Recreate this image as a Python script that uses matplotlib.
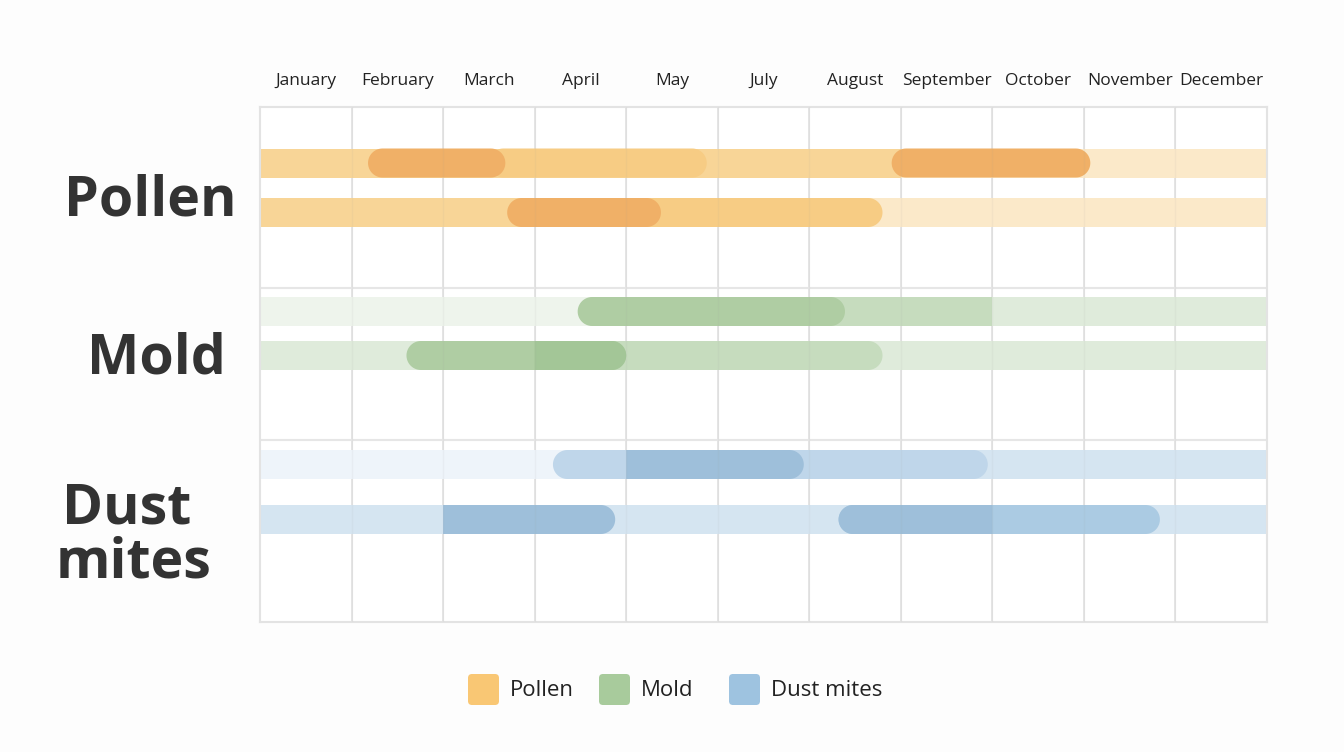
import matplotlib
matplotlib.use("Agg")
import numpy as np
import matplotlib.pyplot as plt
from matplotlib.patches import FancyBboxPatch, Polygon

plt.rcParams["font.family"] = ["Open Sans", "DejaVu Sans"]

# month columns as printed on the chart (June is not shown)
months = ["January", "February", "March", "April", "May", "July",
          "August", "September", "October", "November", "December"]

series = ["Pollen", "Mold", "Dust mites"]

# each row: (start, end, intensity, round left, round right), in month columns
pollen_a = [(0, 7.0, "light", 0, 0), (7.0, 11, "pale", 0, 0),
            (2.5, 4.88, "mid", 1, 1), (1.18, 2.68, "dark", 1, 1),
            (6.90, 9.07, "dark", 1, 1)]
pollen_b = [(0, 11, "pale", 0, 0), (0, 3.0, "light", 0, 0),
            (2.8, 6.8, "mid", 1, 1), (2.70, 4.38, "dark", 1, 1)]
mold_a = [(0, 3.6, "pale", 0, 0), (3.6, 11, "light", 0, 0),
          (5.5, 8.0, "mid", 0, 0), (3.47, 6.39, "dark", 1, 1)]
mold_b = [(0, 11, "light", 0, 0), (3.5, 6.8, "mid", 1, 1),
          (1.6, 4.0, "dark", 1, 1), (3.0, 4.0, "deep", 0, 1)]
dust_a = [(0, 3.6, "pale", 0, 0), (3.6, 11, "light", 0, 0),
          (3.2, 7.95, "mid", 1, 1), (4.0, 5.94, "deep", 0, 1)]
dust_b = [(0, 11, "light", 0, 0), (2.0, 3.88, "deep", 0, 1),
          (6.32, 9.83, "dark", 1, 1), (6.32, 8.0, "deep", 1, 0)]

palette = {
    "Pollen": {"pale": "#FBE9C9", "light": "#F8D597", "mid": "#F7CC84",
               "dark": "#F0B067", "deep": "#EFAC62", "key": "#F9C774"},
    "Mold": {"pale": "#EEF4EC", "light": "#DFEBDB", "mid": "#C6DCBE",
             "dark": "#AFCDA3", "deep": "#A3C697", "key": "#A8CB9C"},
    "Dust mites": {"pale": "#EEF4FA", "light": "#D5E5F1", "mid": "#BFD6EA",
                   "dark": "#ABCBE3", "deep": "#9EBFDA", "key": "#9EC3E0"},
}

rows = [("Pollen", pollen_a), ("Pollen", pollen_b),
        ("Mold", mold_a), ("Mold", mold_b),
        ("Dust mites", dust_a), ("Dust mites", dust_b)]

# layout (pixels below the top edge of the grid)
row_y = [56, 105.5, 204.5, 248.5, 357.5, 412.5]
group_lines = [181, 333]
bar_h = 29
grid_h = 515

W, H = 1344, 752
fig = plt.figure(figsize=(W / 100, H / 100), dpi=100)
fig.patch.set_facecolor("#FDFDFD")
ax = fig.add_axes([260 / W, 1 - 622 / H, 1007 / W, grid_h / H])
ax.set_facecolor("white")
ax.set_xlim(0, len(months))
ax.set_ylim(grid_h, 0)

px_per_x = 1007 / len(months)
rx = (bar_h / 2) / px_per_x   # cap radius in month units
ry = bar_h / 2


def segment_outline(y, x0, x1, rl, rr):
    t = np.linspace(-np.pi / 2, np.pi / 2, 30)
    if rr:
        right = np.column_stack([x1 - rx + rx * np.cos(t), y + ry * np.sin(t)])
    else:
        right = np.array([[x1, y - ry], [x1, y + ry]])
    if rl:
        left = np.column_stack([x0 + rx - rx * np.cos(t[::-1]), y + ry * np.sin(t[::-1])])
    else:
        left = np.array([[x0, y + ry], [x0, y - ry]])
    return np.vstack([right, left])


for (name, segs), y in zip(rows, row_y):
    for x0, x1, level, rl, rr in segs:
        ax.add_patch(Polygon(segment_outline(y, x0, x1, rl, rr), closed=True,
                             fc=palette[name][level], ec="none", zorder=2))

# grid (plus a faint copy over the bars, like the reference)
for i in range(1, len(months)):
    ax.axvline(i, color="#E2E2E2", lw=1.2, zorder=1)
    ax.axvline(i, color="#999999", lw=1.0, alpha=0.08, zorder=3)
for gy in group_lines:
    ax.axhline(gy, color="#E6E6E6", lw=1.5, zorder=1)
for s in ax.spines.values():
    s.set_color("#E3E3E3")
    s.set_linewidth(1.5)

ax.xaxis.tick_top()
ax.set_xticks([i + 0.5 for i in range(len(months))])
ax.set_xticklabels(months, fontsize=12.5, color="#222222")
ax.tick_params(axis="x", length=0, pad=13)
ax.set_yticks([])

# group labels
lab = dict(fontsize=40, fontweight="bold", color="#333333",
           family=["Open Sans", "DejaVu Sans"], va="baseline")
fig.text(64 / W, 1 - 215 / H, "Pollen", ha="left", **lab)
fig.text(87 / W, 1 - 373 / H, "Mold", ha="left", **lab)
fig.text(62 / W, 1 - 523 / H, "Dust", ha="left", **lab)
fig.text(56 / W, 1 - 578 / H, "mites", ha="left", **lab)

# legend
lax = fig.add_axes([0, 0, 1, 1])
lax.set_xlim(0, W)
lax.set_ylim(H, 0)
lax.axis("off")
key_x = [468, 599, 729]
for name, kx in zip(series, key_x):
    lax.add_patch(FancyBboxPatch((kx + 3, 677), 25, 25,
                                 boxstyle="round,pad=3,rounding_size=4",
                                 fc=palette[name]["key"], ec="none"))
    lax.text(kx + 42, 690, name, fontsize=16, color="#222222",
             va="center", ha="left")

fig.savefig("out.png", dpi=100, facecolor=fig.get_facecolor())
